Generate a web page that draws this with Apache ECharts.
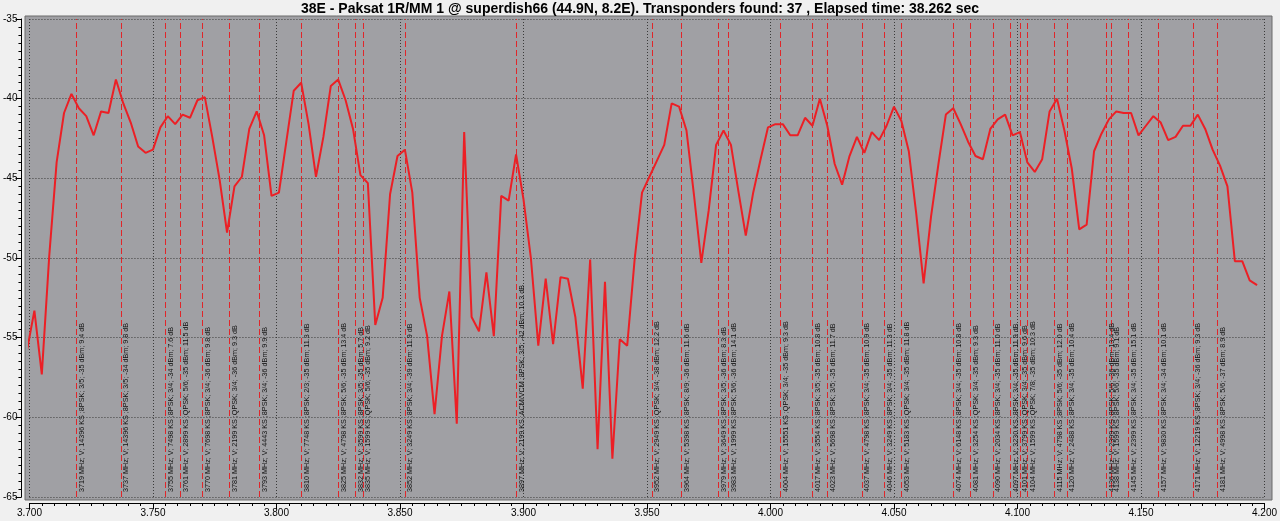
<!DOCTYPE html>
<html><head><meta charset="utf-8">
<script src="https://cdn.jsdelivr.net/npm/echarts@6/dist/echarts.min.js"></script>
<style>html,body{margin:0;padding:0;background:#F0F0F0}#c{width:1280px;height:521px}</style>
</head><body><div id="c"></div>
<script>
const titleText = '38E - Paksat 1R/MM 1 @ superdish66 (44.9N, 8.2E). Transponders found: 37 , Elapsed time: 38.262 sec';

const freqMHz = [
3699,3702,3705,3708,3711,3714,3717,3720,3723,3726,
3729,3732,3735,3738,3741,3744,3747,3750,3753,3756,
3759,3762,3765,3768,3771,3774,3777,3780,3783,3786,
3789,3792,3795,3798,3801,3804,3807,3810,3813,3816,
3819,3822,3825,3828,3831,3834,3837,3840,3843,3846,
3849,3852,3855,3858,3861,3864,3867,3870,3873,3876,
3879,3882,3885,3888,3891,3894,3897,3900,3903,3906,
3909,3912,3915,3918,3921,3924,3927,3930,3933,3936,
3939,3942,3945,3948,3951,3954,3957,3960,3963,3966,
3969,3972,3975,3978,3981,3984,3987,3990,3993,3996,
3999,4002,4005,4008,4011,4014,4017,4020,4023,4026,
4029,4032,4035,4038,4041,4044,4047,4050,4053,4056,
4059,4062,4065,4068,4071,4074,4077,4080,4083,4086,
4089,4092,4095,4098,4101,4104,4107,4110,4113,4116,
4119,4122,4125,4128,4131,4134,4137,4140,4143,4146,
4149,4152,4155,4158,4161,4164,4167,4170,4173,4176,
4179,4182,4185,4188,4191,4194,4197];

const levelDb = [
-55.8,-53.3,-57.3,-49.9,-44.0,-40.9,-39.7,-40.6,-41.1,-42.3,
-40.8,-40.9,-38.8,-40.3,-41.5,-43.0,-43.4,-43.2,-41.8,-41.1,
-41.6,-41.0,-41.2,-40.1,-39.9,-42.4,-45.1,-48.4,-45.5,-44.9,
-41.9,-40.8,-42.3,-46.1,-45.9,-42.7,-39.5,-39.0,-41.6,-44.9,
-42.4,-39.2,-38.8,-40.1,-41.9,-44.8,-45.3,-54.2,-52.5,-46.0,
-43.6,-43.2,-45.9,-52.5,-54.9,-59.8,-54.9,-52.1,-60.4,-42.1,
-53.7,-54.6,-50.9,-54.9,-46.1,-46.4,-43.5,-46.3,-50.0,-55.5,
-51.3,-55.4,-51.2,-51.3,-53.7,-58.2,-50.1,-62.0,-51.5,-62.6,
-55.1,-55.5,-50.1,-45.9,-44.9,-43.9,-42.9,-40.3,-40.5,-42.0,
-46.0,-50.3,-47.0,-42.9,-42.0,-42.9,-45.8,-48.6,-45.9,-43.8,
-41.8,-41.6,-41.6,-42.3,-42.3,-41.2,-41.7,-40.0,-41.7,-44.1,
-45.4,-43.6,-42.4,-43.4,-42.1,-42.6,-41.7,-40.5,-41.4,-43.3,
-47.2,-51.6,-47.4,-44.1,-41.0,-40.6,-41.6,-42.7,-43.6,-43.8,
-41.9,-41.3,-41.0,-42.3,-42.1,-44.0,-44.6,-43.8,-40.8,-40.0,
-42.0,-44.4,-48.2,-47.9,-43.3,-42.2,-41.3,-40.8,-40.9,-40.9,
-42.3,-41.7,-41.1,-41.5,-42.6,-42.4,-41.7,-41.7,-41.0,-41.9,
-43.2,-44.2,-45.5,-50.2,-50.2,-51.4,-51.7];

const tpFreqs = [3719,3737,3755,3761,3770,3781,3793,3810,3825,3832,3835,3852,3897,3952,3964,3979,3983,4004,4017,4023,4037,4046,4053,4074,4081,4090,4097,4101,4104,4115,4120,4136,4138,4145,4157,4171,4181];

const tpLabels = [
'3719 MHz; V; 14396 KS ;8PSK; 3/5; -35 dBm; 9.4 dB',
'3737 MHz; V; 14396 KS ;8PSK; 3/5; -34 dBm; 9.8 dB',
'3755 MHz; V; 7498 KS ;8PSK; 3/4; -34 dBm; 7.6 dB',
'3761 MHz; V; 2899 KS ;QPSK; 5/6; -35 dBm; 11.5 dB',
'3770 MHz; V; 7698 KS ;8PSK; 3/4; -36 dBm; 9.8 dB',
'3781 MHz; V; 2199 KS ;QPSK; 3/4; -36 dBm; 9.3 dB',
'3793 MHz; V; 4443 KS ;8PSK; 3/4; -36 dBm; 9.9 dB',
'3810 MHz; V; 7748 KS ;8PSK; 2/3; -35 dBm; 11.3 dB',
'3825 MHz; V; 4798 KS ;8PSK; 5/6; -35 dBm; 13.4 dB',
'3832 MHz; V; 3599 KS ;8PSK; 3/5; -35 dBm; 5.7 dB',
'3835 MHz; V; 1599 KS ;QPSK; 5/6; -35 dBm; 9.2 dB',
'3852 MHz; V; 3249 KS ;8PSK; 3/4; -39 dBm; 11.9 dB',
'3897 MHz; V; 2199 KS ;ACM/VCM ;8PSK; 3/5; -42 dBm; 10.3 dB',
'3952 MHz; V; 2949 KS ;QPSK; 3/4; -38 dBm; 12.2 dB',
'3964 MHz; V; 5398 KS ;8PSK; 8/9; -36 dBm; 11.6 dB',
'3979 MHz; V; 3649 KS ;8PSK; 3/5; -36 dBm; 8.3 dB',
'3983 MHz; V; 1999 KS ;8PSK; 5/6; -36 dBm; 14.1 dB',
'4004 MHz; V; 15551 KS ;QPSK; 3/4; -35 dBm; 9.3 dB',
'4017 MHz; V; 3554 KS ;8PSK; 3/5; -35 dBm; 10.8 dB',
'4023 MHz; V; 5698 KS ;8PSK; 3/5; -35 dBm; 11.7 dB',
'4037 MHz; V; 4798 KS ;8PSK; 3/4; -35 dBm; 10.9 dB',
'4046 MHz; V; 3249 KS ;8PSK; 3/4; -35 dBm; 11.3 dB',
'4053 MHz; V; 5183 KS ;QPSK; 3/4; -35 dBm; 11.8 dB',
'4074 MHz; V; 6148 KS ;8PSK; 3/4; -35 dBm; 10.8 dB',
'4081 MHz; V; 3254 KS ;QPSK; 3/4; -35 dBm; 9.3 dB',
'4090 MHz; V; 2034 KS ;8PSK; 3/4; -35 dBm; 11.0 dB',
'4097 MHz; V; 3230 KS ;8PSK; 3/4; -35 dBm; 11.9 dB',
'4101 MHz; V; 3799 KS ;QPSK; 3/4; -35 dBm; 9.6 dB',
'4104 MHz; V; 1599 KS ;QPSK; 7/8; -35 dBm; 10.3 dB',
'4115 MHz; V; 4798 KS ;8PSK; 5/6; -35 dBm; 12.0 dB',
'4120 MHz; V; 2488 KS ;8PSK; 3/4; -35 dBm; 10.4 dB',
'4136 MHz; V; 2399 KS ;8PSK; 5/6; -36 dBm; 13.4 dB',
'4138 MHz; V; 1599 KS ;8PSK; 5/6; -35 dBm; 9.1 dB',
'4145 MHz; V; 2399 KS ;8PSK; 3/4; -35 dBm; 15.1 dB',
'4157 MHz; V; 9830 KS ;8PSK; 3/4; -34 dBm; 10.1 dB',
'4171 MHz; V; 12219 KS ;8PSK; 3/4; -36 dBm; 9.3 dB',
'4181 MHz; V; 4998 KS ;8PSK; 5/6; -37 dBm; 8.9 dB'];

const xTicksMHz = [3700,3750,3800,3850,3900,3950,4000,4050,4100,4150,4200];
const yTicksDb = [-65,-60,-55,-50,-45,-40,-35];

const chart = echarts.init(document.getElementById('c'), null, {renderer:'canvas'});
const lineData = freqMHz.map((f,i)=>[f, levelDb[i]]);
const gridLine = {show:true, lineStyle:{color:'#3a3a3a', type:[1,2], width:1}};
const option = {
  backgroundColor:'#F0F0F0',
  animation:false,
  title:{text:titleText, left:'center', top:-3, textStyle:{fontFamily:'Liberation Sans', fontWeight:'bold', fontSize:14, color:'#000'}},
  grid:[
    {left:25, right:8, top:16, bottom:21, show:true, backgroundColor:'#A0A0A4', borderColor:'#6a6a6a', borderWidth:1},
    {left:29, right:11, top:19, bottom:24, show:false}
  ],
  xAxis:[
    {gridIndex:0, type:'value', show:false, min:0, max:1},
    {gridIndex:1, type:'value', min:xTicksMHz[0], max:xTicksMHz[xTicksMHz.length-1], interval:xTicksMHz[1]-xTicksMHz[0], offset:6,
     axisLine:{show:true, onZero:false, lineStyle:{color:'#000'}},
     axisTick:{show:true, length:6, lineStyle:{color:'#000'}},
     minorTick:{show:true, splitNumber:10, length:3, lineStyle:{color:'#000'}},
     axisLabel:{formatter:v=>(v/1000).toFixed(3), color:'#000', fontSize:10, margin:5, fontFamily:'Liberation Sans'},
     splitLine:gridLine}
  ],
  yAxis:[
    {gridIndex:0, type:'value', show:false, min:0, max:1},
    {gridIndex:1, type:'value', min:yTicksDb[0], max:yTicksDb[yTicksDb.length-1], interval:yTicksDb[1]-yTicksDb[0], offset:8,
     axisLine:{show:true, onZero:false, lineStyle:{color:'#000'}},
     axisTick:{show:true, length:6, lineStyle:{color:'#000'}},
     minorTick:{show:true, splitNumber:10, length:3, lineStyle:{color:'#000'}},
     axisLabel:{color:'#000', fontSize:10, margin:4, fontFamily:'Liberation Sans'},
     splitLine:gridLine}
  ],
  series:[{
    type:'line', xAxisIndex:1, yAxisIndex:1, data:lineData, symbol:'none', showSymbol:false, clip:false,
    lineStyle:{color:'#EC1F25', width:2}, emphasis:{disabled:true}, z:3,
    markLine:{
      silent:true, symbol:['none','none'], animation:false,
      lineStyle:{color:'#E0262A', type:[6,3], width:1},
      label:{show:true, position:'insideStartBottom', formatter:p=>p.name, fontSize:7.2, color:'#111', fontFamily:'Liberation Sans', distance:2, padding:[0,0,0,3]},
      emphasis:{disabled:true},
      data:tpFreqs.map((f,i)=>({name:tpLabels[i], xAxis:f}))
    }
  }]
};
chart.setOption(option);
</script></body></html>
